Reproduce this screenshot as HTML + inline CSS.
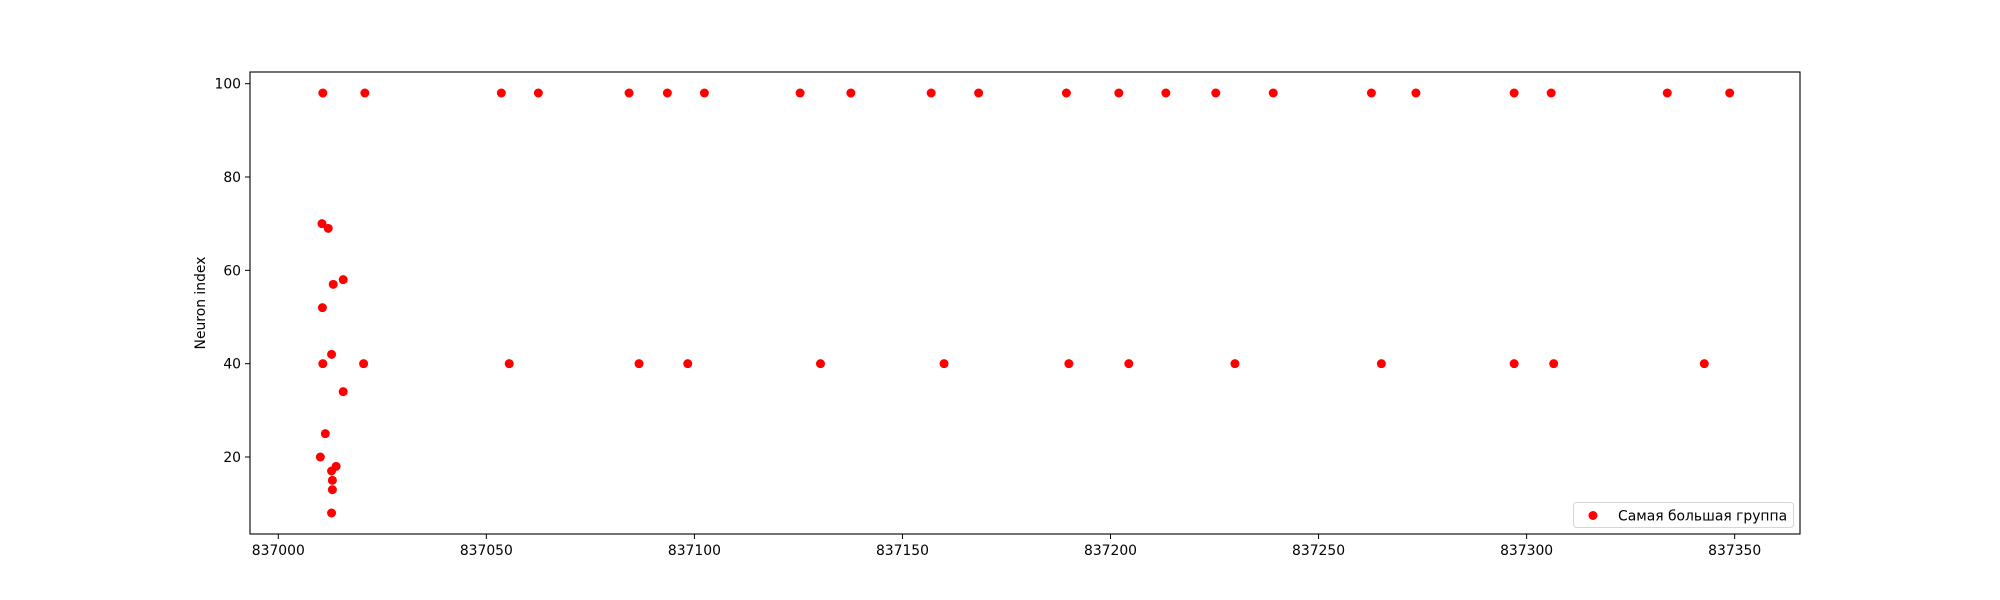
<!DOCTYPE html>
<html><head><meta charset="utf-8"><style>
html,body{margin:0;padding:0;background:#fff;}
svg{display:block;font-family:"DejaVu Sans","Liberation Sans",sans-serif;}
</style></head><body>
<svg id="chart" width="2000" height="600" xmlns="http://www.w3.org/2000/svg"></svg>
<script>
const xTicks = [837000, 837050, 837100, 837150, 837200, 837250, 837300, 837350];
const yTicks = [20, 40, 60, 80, 100];
const xOffsets = [10.7,20.8,53.6,62.5,84.3,93.5,102.4,125.4,137.6,156.9,168.3,189.4,202,213.3,225.3,239.1,262.7,273.4,297,305.9,333.8,348.8,
 10.7,20.5,55.5,86.7,98.4,130.3,160,190,204.4,229.9,265.1,297,306.5,342.7,
 10.5,12.0,13.2,15.6,10.6,12.8,15.6,11.3,10.1,13.9,12.8,13.0,13.0,12.8];
const yValues = [98,98,98,98,98,98,98,98,98,98,98,98,98,98,98,98,98,98,98,98,98,98,
 40,40,40,40,40,40,40,40,40,40,40,40,40,40,
 70,69,57,58,52,42,34,25,20,18,17,15,13,8];
const xBase = 837000;

const L=250,R=1800,T=72,B=534;
const xMin=836993.2,xMax=837365.7,yMin=3.5,yMax=102.5;
const sx=v=>L+(v-xMin)/(xMax-xMin)*(R-L);
const sy=v=>B-(v-yMin)/(yMax-yMin)*(B-T);
const NS='http://www.w3.org/2000/svg';
const svg=document.getElementById('chart');
function mk(tag,attrs,parent){const e=document.createElementNS(NS,tag);for(const k in attrs)e.setAttribute(k,attrs[k]);(parent||svg).appendChild(e);return e;}

const pts=mk('g',{});


for(let i=0;i<xOffsets.length;i++){
  const c=mk('circle',{cx:sx(xBase+xOffsets[i]),cy:sy(yValues[i]),r:4.5,fill:'#ff0000'},pts);
  
  
}
const frame=mk('rect',{x:L,y:T,width:R-L,height:B-T,fill:'none',stroke:'#000','stroke-width':1.1});



const xa=mk('g',{});


xTicks.forEach(t=>{
  const x=sx(t);
  mk('line',{x1:x,x2:x,y1:B,y2:B+5,stroke:'#000','stroke-width':1},xa);
  const tx=mk('text',{x:x,y:B+21,'text-anchor':'middle','font-size':'13.9px',fill:'#000'},xa);
  tx.textContent=t;
  
  
});
const ya=mk('g',{});


yTicks.forEach(t=>{
  const y=sy(t);
  mk('line',{x1:L-5,x2:L,y1:y,y2:y,stroke:'#000','stroke-width':1},ya);
  const tx=mk('text',{x:L-9,y:y+5,'text-anchor':'end','font-size':'13.9px',fill:'#000'},ya);
  tx.textContent=t;
  
  
});
</script>
<svg style="position:absolute;left:0;top:0" width="2000" height="600" xmlns="http://www.w3.org/2000/svg">
<text x="0" y="0" transform="translate(205,303) rotate(-90)" text-anchor="middle" font-family="DejaVu Sans, Liberation Sans, sans-serif" font-size="13.9px">Neuron index</text>
<g>
<rect x="1573.5" y="502.5" width="220" height="25" rx="3" fill="#fff" fill-opacity="0.8" stroke="#d6d6d6"/>
<circle cx="1593" cy="515.5" r="4.5" fill="#ff0000"/>
<text x="1618" y="520.5" font-family="DejaVu Sans, Liberation Sans, sans-serif" font-size="13.9px">Самая большая группа</text>
</g>
</svg>
</body></html>
